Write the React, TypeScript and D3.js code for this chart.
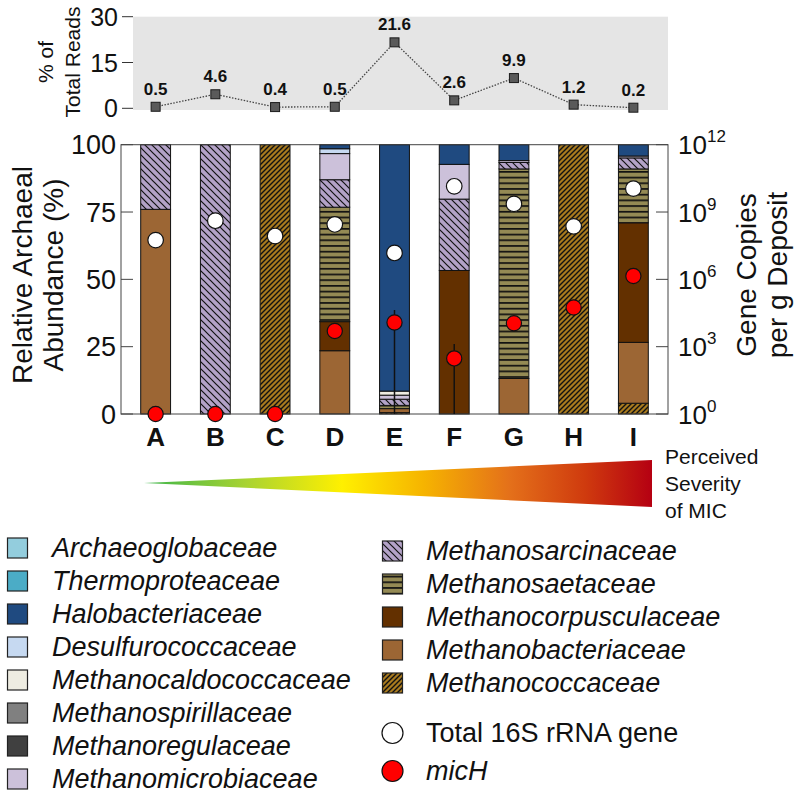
import React from 'react';
import * as d3 from 'd3';

const categories = ['A', 'B', 'C', 'D', 'E', 'F', 'G', 'H', 'I'];
const readsPct = [0.5, 4.6, 0.4, 0.5, 21.6, 2.6, 9.9, 1.2, 0.2];
const readsTicks = [0, 15, 30];
const abundanceTicks = [0, 25, 50, 75, 100];
const copiesTicks = [1, 1e3, 1e6, 1e9, 1e12];

const families = [
  'Archaeoglobaceae', 'Thermoproteaceae', 'Halobacteriaceae', 'Desulfurococcaceae',
  'Methanocaldococcaceae', 'Methanospirillaceae', 'Methanoregulaceae', 'Methanomicrobiaceae',
  'Methanosarcinaceae', 'Methanosaetaceae', 'Methanocorpusculaceae', 'Methanobacteriaceae',
  'Methanococcaceae',
];
const familyColors = [
  '#93cddd', '#4bacc6', '#1f4a80', '#c6d9f1', '#eeece1', '#808080', '#404040', '#ccc1da',
  '#b3a2c7', '#948a54', '#633000', '#9c6634', '#a87a1e',
];
const familyPatterns = ['', '', '', '', '', '', '', '', 'sarc', 'saet', '', '', 'cocc'];

// relative abundance (%) per family, one value per deposit A..I
const archaeoglobaceae = [0, 0, 0, 0, 0, 0, 0, 0, 0];
const thermoproteaceae = [0, 0, 0, 0, 0, 0, 0, 0, 0];
const halobacteriaceae = [0, 0, 0, 1.5, 91.5, 7.3, 5.9, 0, 4.2];
const desulfurococcaceae = [0, 0, 0, 1.8, 0, 0, 0, 0, 0];
const methanocaldococcaceae = [0, 0, 0, 0, 1.5, 0, 0, 0, 0];
const methanospirillaceae = [0, 0, 0, 0, 0, 0, 0, 0, 0];
const methanoregulaceae = [0, 0, 0, 0, 0, 0, 0, 0, 0];
const methanomicrobiaceae = [0, 0, 0, 9.7, 1.5, 12.9, 0.7, 0, 0.7];
const methanosarcinaceae = [24, 100, 0, 10.2, 2.3, 26.5, 2.4, 0, 4.1];
const methanosaetaceae = [0, 0, 0, 42.5, 1.2, 0, 77.8, 0, 20.0];
const methanocorpusculaceae = [0, 0, 0, 10.8, 0, 53.3, 0, 0, 44.4];
const methanobacteriaceae = [76, 0, 0, 23.5, 1.5, 0, 13.2, 0, 22.6];
const methanococcaceae = [0, 0, 100, 0, 0.5, 0, 0, 100, 4.0];

const abundance = [
  archaeoglobaceae, thermoproteaceae, halobacteriaceae, desulfurococcaceae,
  methanocaldococcaceae, methanospirillaceae, methanoregulaceae, methanomicrobiaceae,
  methanosarcinaceae, methanosaetaceae, methanocorpusculaceae, methanobacteriaceae,
  methanococcaceae,
];

// gene copies per g deposit
const total16S = [5.6e7, 4.1e8, 8.5e7, 2.8e8, 1.5e7, 1.4e10, 2.3e9, 2.3e8, 1.1e10];
const micH = [1, 1, 1, 5.0e3, 1.2e4, 3.0e2, 1.1e4, 5.6e4, 1.4e6];
const micHUpper = [0, 0, 0, 0, 4.3e4, 1.3e3, 0, 0, 0];
const micHLower = [0, 0, 0, 0, 1, 1, 0, 0, 0];

const FONT = "'Liberation Sans', Arial, Helvetica, sans-serif";

export default function App() {
  const x = d3.scaleBand<string>().domain(categories).range([121, 668]).paddingInner(0.5).paddingOuter(0.33);
  const yAb = d3.scaleLinear().domain([0, 100]).range([414, 144.7]);
  const yLog = d3.scaleLog().domain([1, 1e12]).range([414, 144.7]);
  const yTop = d3.scaleLinear().domain([0, 30]).range([108.3, 16.7]);

  const rows = categories.map((c, i) => {
    const r: any = { cat: c };
    families.forEach((f, j) => (r[f] = abundance[j][i]));
    return r;
  });
  const keys = families.slice().reverse();
  const stacked = d3.stack<any>().keys(keys)(rows);

  const fillFor = (f: string) => {
    const j = families.indexOf(f);
    return familyPatterns[j] ? `url(#${familyPatterns[j]})` : familyColors[j];
  };

  const line = d3.line<number>().x((_, i) => x(categories[i])! + x.bandwidth() / 2).y((d) => yTop(d));
  const bw = x.bandwidth();
  const cx = (c: string) => x(c)! + bw / 2;

  const leftLegend = families.slice(0, 8);
  const rightLegend = families.slice(8);

  return (
    <svg width={800} height={798} style={{ position: 'absolute', left: 0, top: 0 }} fontFamily={FONT}>
      <defs>
        <pattern id="sarc" patternUnits="userSpaceOnUse" width={7} height={7}>
          <rect width={7} height={7} fill="#b3a2c7" />
          <path d="M0,0 L7,7 M-1,6 L1,8 M6,-1 L8,1" stroke="#111" strokeWidth={1.2} />
        </pattern>
        <pattern id="saet" patternUnits="userSpaceOnUse" width={10} height={5.7}>
          <rect width={10} height={5.7} fill="#948a54" />
          <rect y={0} width={10} height={1.7} fill="#111" />
        </pattern>
        <pattern id="cocc" patternUnits="userSpaceOnUse" width={5} height={5}>
          <rect width={5} height={5} fill="#a87a1e" />
          <path d="M0,5 L5,0 M-1,1 L1,-1 M4,6 L6,4" stroke="#111" strokeWidth={1.4} />
        </pattern>
        <linearGradient id="sev" x1="0" x2="1" y1="0" y2="0">
          <stop offset="0" stopColor="#3cb54a" />
          <stop offset="0.2" stopColor="#a8d332" />
          <stop offset="0.39" stopColor="#fff000" />
          <stop offset="0.55" stopColor="#f6b400" />
          <stop offset="0.72" stopColor="#e4701a" />
          <stop offset="0.87" stopColor="#cf3a0e" />
          <stop offset="1" stopColor="#b50012" />
        </linearGradient>
      </defs>

      {/* top panel */}
      <rect x={133} y={16.7} width={535} height={93.3} fill="#e5e5e5" />
      {readsTicks.map((t) => (
        <g key={t}>
          <line x1={122} x2={133} y1={yTop(t)} y2={yTop(t)} stroke="#333" strokeWidth={1} />
          <text x={118} y={yTop(t) + 9} textAnchor="end" fontSize={25} fill="#111">{t}</text>
        </g>
      ))}
      <text transform="translate(45,62) rotate(-90)" textAnchor="middle" dominantBaseline="central" fontSize={21} fill="#111">% of</text>
      <text transform="translate(72,62) rotate(-90)" textAnchor="middle" dominantBaseline="central" fontSize={21} fill="#111">Total Reads</text>
      <path d={line(readsPct) || ''} fill="none" stroke="#444" strokeWidth={1.3} strokeDasharray="1.5,1.5" />
      {readsPct.map((v, i) => (
        <g key={i}>
          <rect x={cx(categories[i]) - 4.5} y={yTop(v) - 4.5} width={9} height={9} fill="#5a5a5a" stroke="#1a1a1a" strokeWidth={1} />
          <text x={cx(categories[i])} y={yTop(v) - 12} textAnchor="middle" fontSize={17} fontWeight="bold" fill="#111">{v}</text>
        </g>
      ))}

      {/* main stacked bars */}
      {stacked.map((s) => (
        <g key={s.key}>
          {s.map((d, i) =>
            d[1] - d[0] > 0 ? (
              <rect key={i} x={x(categories[i])} y={yAb(d[1])} width={bw} height={yAb(d[0]) - yAb(d[1])}
                fill={fillFor(s.key)} stroke="#111" strokeWidth={1} />
            ) : null
          )}
        </g>
      ))}

      {/* frame */}
      <rect x={121} y={144.7} width={547} height={269.3} fill="none" stroke="#444" strokeWidth={1} />
      {abundanceTicks.map((t) => (
        <g key={t}>
          <line x1={121} x2={133} y1={yAb(t)} y2={yAb(t)} stroke="#444" />
          <text x={116} y={yAb(t) + 9.5} textAnchor="end" fontSize={27} fill="#111">{t}</text>
        </g>
      ))}
      {copiesTicks.map((t) => (
        <g key={t}>
          <line x1={656} x2={668} y1={yLog(t)} y2={yLog(t)} stroke="#444" />
          <text x={678} y={yLog(t) + 9.5} fontSize={26} fill="#111">
            10<tspan dy={-12} fontSize={17}>{Math.round(Math.log10(t))}</tspan>
          </text>
        </g>
      ))}
      <text transform="translate(22,275) rotate(-90)" textAnchor="middle" dominantBaseline="central" fontSize={28} fill="#111">Relative Archaeal</text>
      <text transform="translate(53,275) rotate(-90)" textAnchor="middle" dominantBaseline="central" fontSize={28} fill="#111">Abundance (%)</text>
      <text transform="translate(746,275) rotate(-90)" textAnchor="middle" dominantBaseline="central" fontSize={28} fill="#111">Gene Copies</text>
      <text transform="translate(777,275) rotate(-90)" textAnchor="middle" dominantBaseline="central" fontSize={28} fill="#111">per g Deposit</text>

      {/* error bars and points */}
      {categories.map((c, i) =>
        micHUpper[i] > 0 ? (
          <line key={c} x1={cx(c)} x2={cx(c)} y1={yLog(micHUpper[i])} y2={yLog(micHLower[i])} stroke="#111" strokeWidth={1.5} />
        ) : null
      )}
      {categories.map((c, i) => (
        <circle key={c} cx={cx(c)} cy={yLog(total16S[i])} r={7.8} fill="#fff" stroke="#111" strokeWidth={1.2} />
      ))}
      {categories.map((c, i) => (
        <circle key={c} cx={cx(c)} cy={yLog(micH[i])} r={7.6} fill="#ff0000" stroke="#111" strokeWidth={1.2} />
      ))}
      {categories.map((c) => (
        <text key={c} x={cx(c)} y={446} textAnchor="middle" fontSize={26} fontWeight="bold" fill="#111">{c}</text>
      ))}

      {/* severity gradient */}
      <polygon points="144,483 652,460 652,507" fill="url(#sev)" />
      <text x={665} y={464} fontSize={21} fill="#111">Perceived</text>
      <text x={665} y={491} fontSize={21} fill="#111">Severity</text>
      <text x={665} y={518} fontSize={21} fill="#111">of MIC</text>

      {/* legend */}
      {leftLegend.map((f, i) => (
        <g key={f}>
          <rect x={7.5} y={557 + i * 33 - 19} width={20} height={20} fill={fillFor(f)} stroke="#222" strokeWidth={1.2} />
          <text x={52} y={557 + i * 33} fontSize={27} fontStyle="italic" fill="#111">{f}</text>
        </g>
      ))}
      {rightLegend.map((f, i) => (
        <g key={f}>
          <rect x={382.5} y={560 + i * 33 - 19} width={20} height={20} fill={fillFor(f)} stroke="#222" strokeWidth={1.2} />
          <text x={426} y={560 + i * 33} fontSize={27} fontStyle="italic" fill="#111">{f}</text>
        </g>
      ))}
      <circle cx={392.5} cy={733} r={10.5} fill="#fff" stroke="#111" strokeWidth={1.2} />
      <text x={426} y={742} fontSize={27} fill="#111">Total 16S rRNA gene</text>
      <circle cx={392.5} cy={771} r={10.5} fill="#ff0000" stroke="#111" strokeWidth={1.2} />
      <text x={426} y={780} fontSize={27} fontStyle="italic" fill="#111">micH</text>
    </svg>
  );
}
